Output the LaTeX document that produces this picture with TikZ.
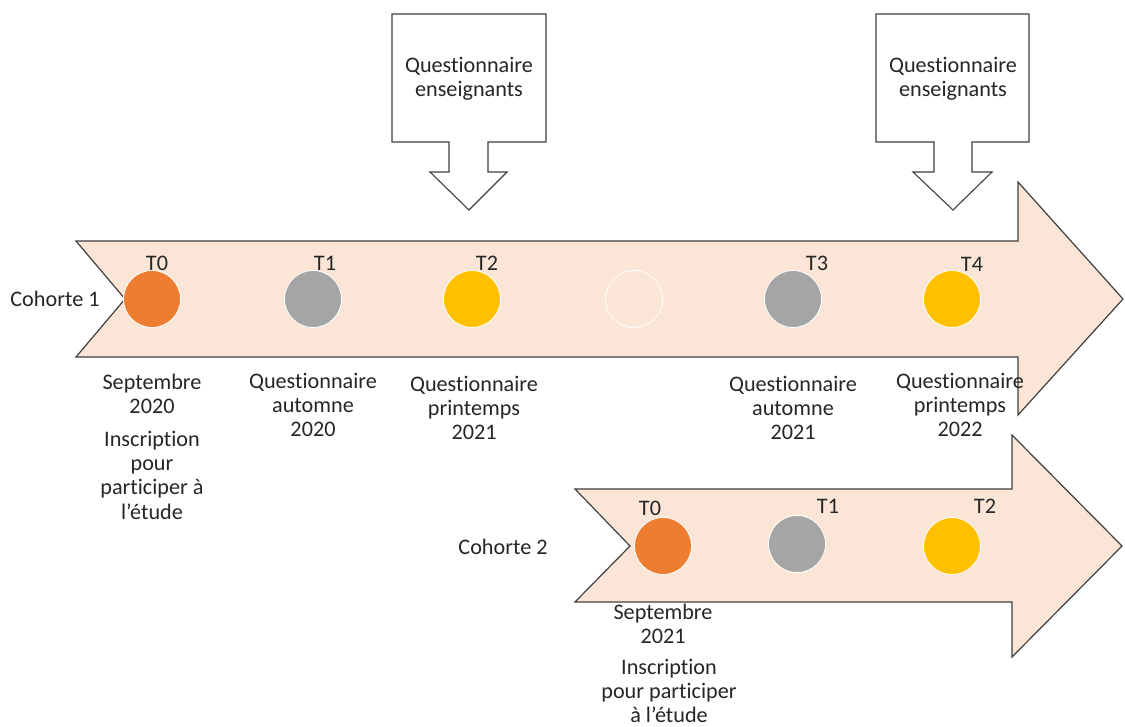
\documentclass[tikz,border=0pt]{standalone}
\usepackage{fontspec}
\setmainfont[Ligatures=NoCommon]{Carlito}
\begin{document}
\begin{tikzpicture}[x=1pt,y=-1pt,
  bigarrow/.style={draw=black!75,line width=1.2pt,fill=peach,line join=miter},
  callout/.style={draw=black!75,line width=1.1pt,fill=white},
  dot/.style={circle,minimum size=57pt,inner sep=0pt,draw=white,line width=0.8pt},
  lbl/.style={font=\fontsize{22.2}{24.2}\selectfont,text=black!85,inner sep=0pt},
  blk/.style={lbl,align=center,anchor=north},
]
\definecolor{peach}{HTML}{FBE5D6}
\definecolor{cor}{HTML}{ED7D31}
\definecolor{cgr}{HTML}{A5A5A5}
\definecolor{cye}{HTML}{FFC000}
\useasboundingbox (0,0) rectangle (1125,727);
\fill[white] (0,0) rectangle (1125,727);
% arrows
\draw[bigarrow] (76,241) -- (1018,241) -- (1018,182) -- (1123,299) -- (1018,415) -- (1018,357) -- (76,357) -- (125,299) -- cycle;
\draw[bigarrow] (575,489) -- (1012,489) -- (1012,435) -- (1122,546) -- (1012,657) -- (1012,602) -- (575,602) -- (630,546) -- cycle;
% callouts
\draw[callout] (392,14) -- (546,14) -- (546,142) -- (488,142) -- (488,172) -- (507,172) -- (469,210) -- (430,172) -- (449,172) -- (449,142) -- (392,142) -- cycle;
\draw[callout] (876,14) -- (1029,14) -- (1029,142) -- (972,142) -- (972,172) -- (992,172) -- (953,210) -- (913,172) -- (934,172) -- (934,142) -- (876,142) -- cycle;
\node[blk] (q1) at (469,57) {Questionnaire\\enseignants};
\node[blk] (q2) at (953,57) {Questionnaire\\enseignants};
% cohort 1
\node[lbl] (c1) at (55,299) {Cohorte 1};
\node[dot,fill=cor] (a0) at (152,299) {};
\node[dot,fill=cgr] (a1) at (313,299) {};
\node[dot,fill=cye] (a2) at (472,299) {};
\node[dot,fill=peach,draw=white!70!peach,line width=1.2pt] (ax) at (634,299) {};
\node[dot,fill=cgr] (a3) at (793,299) {};
\node[dot,fill=cye] (a4) at (952,299) {};
\node[lbl] (t0) at (157,263) {T0};
\node[lbl] (t1) at (325,263) {T1};
\node[lbl] (t2) at (487,263) {T2};
\node[lbl] (t3) at (817,263) {T3};
\node[lbl] (t4) at (972,264) {T4};
\node[blk] (s1) at (152,374) {Septembre\\2020};
\node[blk] (i1) at (152,431) {Inscription\\pour\\participer à\\l’étude};
\node[blk] (qa) at (313,373) {Questionnaire\\automne\\2020};
\node[blk] (qp) at (474,376) {Questionnaire\\printemps\\2021};
\node[blk] (qa2) at (793,376) {Questionnaire\\automne\\2021};
\node[blk] (qp2) at (960,373) {Questionnaire\\printemps\\2022};
% cohort 2
\node[lbl] (c2) at (503,547) {Cohorte 2};
\node[dot,fill=cor] (b0) at (663,546) {};
\node[dot,fill=cgr] (b1) at (797,544) {};
\node[dot,fill=cye] (b2) at (952,546) {};
\node[lbl] (u0) at (650,508) {T0};
\node[lbl] (u1) at (828,506) {T1};
\node[lbl] (u2) at (985,506) {T2};
\node[blk] (s2) at (663,604) {Septembre\\2021};
\node[blk] (i2) at (669,659) {Inscription\\pour participer\\à l’étude};
\end{tikzpicture}
\end{document}
